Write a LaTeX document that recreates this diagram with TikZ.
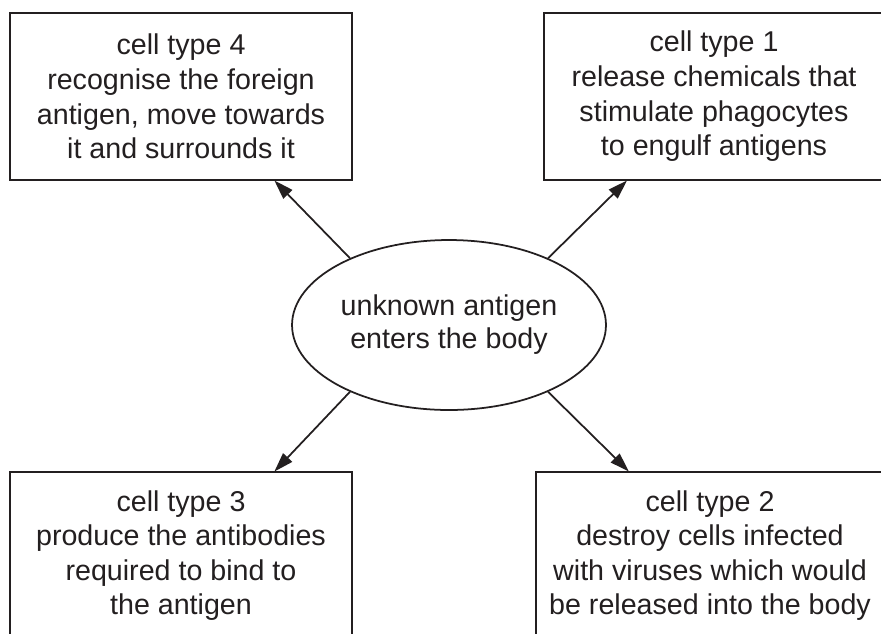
\documentclass[tikz,border=0pt]{standalone}
\usepackage{fontspec}
\setmainfont{Liberation Sans}
\usetikzlibrary{shapes.geometric,arrows.meta}
\definecolor{inkgrey}{RGB}{35,31,32}
\tikzset{
    cellbox/.style={draw=inkgrey, line width=1.3pt, rectangle, align=center, text=inkgrey,
        minimum height=3.34cm, font=\fontsize{16.3}{19.7}\selectfont, inner sep=0pt},
    antigen/.style={draw=inkgrey, line width=1pt, ellipse, align=center, text=inkgrey,
        minimum width=6.28cm, minimum height=3.4cm, inner sep=0pt, font=\fontsize{16.3}{18.8}\selectfont},
    arr/.style={draw=inkgrey, line width=1pt, -{Triangle[length=11pt,width=7pt]}, shorten >=-0.5pt}
}
\begin{document}
\begin{tikzpicture}[x=0.02cm,y=-0.02cm]
    \useasboundingbox (0,0) rectangle (881,633);
    \clip (0,0) rectangle (881,633);
    % centre
    \node[antigen] (ell) at (449,325) {unknown antigen\\enters the body};
    % the four cell types
    \node[cellbox, minimum width=6.84cm] (c4) at (181,96.5) {cell type 4\\recognise the foreign\\antigen, move towards\\it and surrounds it};
    \node[cellbox, minimum width=6.80cm] (c1) at (714,96.5) {cell type 1\\release chemicals that\\stimulate phagocytes\\to engulf antigens};
    \node[cellbox, minimum width=6.84cm] (c3) at (181,555.5) {cell type 3\\produce the antibodies\\required to bind to\\the antigen};
    \node[cellbox, minimum width=6.96cm] (c2) at (710,555.5) {cell type 2\\destroy cells infected\\with viruses which would\\be released into the body};
    % arrows
    \draw[arr] (ell.146) -- (c4.-42.5);
    \draw[arr] (ell.34) -- (c1.-136.2);
    \draw[arr] (ell.214) -- (c3.42.5);
    \draw[arr] (ell.-34) -- (c2.134.8);
\end{tikzpicture}
\end{document}
